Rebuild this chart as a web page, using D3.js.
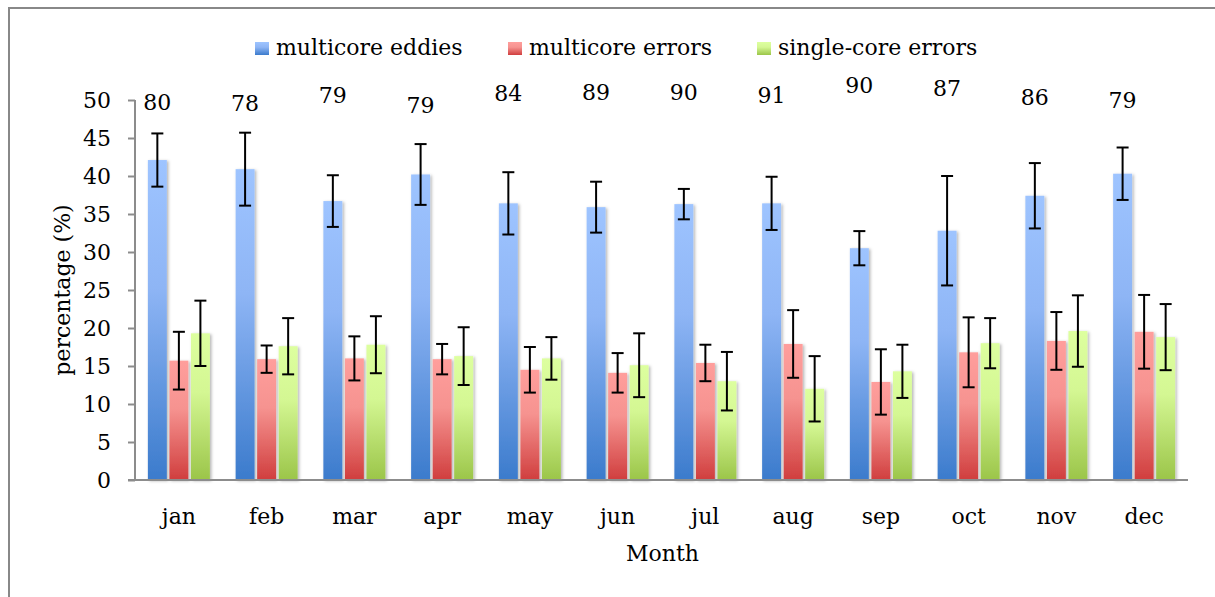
<!DOCTYPE html>
<html>
<head>
<meta charset="utf-8">
<script src="https://cdn.jsdelivr.net/npm/d3@7"></script>
<style>
  html, body { margin: 0; padding: 0; background: #fff; overflow: hidden; }
  svg { display: block; overflow: hidden; }
  text { font-family: "DejaVu Serif", "Liberation Serif", serif; fill: #000; }
</style>
</head>
<body>
<script>
// Monthly share of eddies and tracking errors (percent), with standard deviations
const months = ["jan", "feb", "mar", "apr", "may", "jun", "jul", "aug", "sep", "oct", "nov", "dec"];
const seriesNames = ["multicore eddies", "multicore errors", "single-core errors"];

const multicoreEddies    = [42.1, 40.9, 36.7, 40.2, 36.4, 35.9, 36.3, 36.4, 30.5, 32.8, 37.4, 40.3];
const multicoreEddiesSd  = [3.5, 4.8, 3.4, 4.0, 4.1, 3.35, 2.0, 3.5, 2.25, 7.2, 4.3, 3.45];
const multicoreErrors    = [15.7, 15.9, 16.0, 15.9, 14.5, 14.1, 15.4, 17.9, 12.9, 16.8, 18.3, 19.5];
const multicoreErrorsSd  = [3.8, 1.8, 2.9, 2.0, 3.0, 2.6, 2.4, 4.45, 4.3, 4.6, 3.8, 4.85];
const singleCoreErrors   = [19.3, 17.6, 17.8, 16.3, 16.0, 15.1, 13.0, 12.0, 14.3, 18.0, 19.6, 18.8];
const singleCoreErrorsSd = [4.3, 3.7, 3.75, 3.8, 2.8, 4.2, 3.85, 4.3, 3.5, 3.3, 4.7, 4.35];

// Count shown above each month group
const monthTotals = [80, 78, 79, 79, 84, 89, 90, 91, 90, 87, 86, 79];

const yTicks = [0, 5, 10, 15, 20, 25, 30, 35, 40, 45, 50];

// ---- layout ----
const W = 1215, H = 597;
const plot = { left: 135, right: 1188, top: 100, bottom: 480 };
// vertical placement of the totals (px raised above the default baseline)
const totalsLift = [0, -1, 7, -3, 9, 10, 10, 7, 17, 14, 5, 2];

const svg = d3.select("body").append("svg").attr("width", W).attr("height", H);

const seriesValues = [multicoreEddies, multicoreErrors, singleCoreErrors];
const seriesSd = [multicoreEddiesSd, multicoreErrorsSd, singleCoreErrorsSd];
const gradStops = [
  ["#9ec4ff", "#8eb5f5", "#3b7bcc"],
  ["#ff9e9c", "#f69390", "#d03e3e"],
  ["#ddff9f", "#d4f793", "#9bc549"]
];

const defs = svg.append("defs");
gradStops.forEach((c, i) => {
  const g = defs.append("linearGradient").attr("id", "grad" + i)
    .attr("x1", 0).attr("y1", 0).attr("x2", 0).attr("y2", 1);
  g.append("stop").attr("offset", "0").attr("stop-color", c[0]);
  g.append("stop").attr("offset", "0.4").attr("stop-color", c[1]);
  g.append("stop").attr("offset", "1").attr("stop-color", c[2]);
});
const sh = defs.append("filter").attr("id", "shadow")
  .attr("x", "-30%").attr("y", "-5%").attr("width", "160%").attr("height", "110%");
sh.append("feDropShadow").attr("dx", 1.5).attr("dy", 1).attr("stdDeviation", 1.8)
  .attr("flood-color", "#000").attr("flood-opacity", 0.3);

// outer frame (only its top and left edges fall inside the view)
svg.append("path").attr("d", `M9,${H + 10}V8H${W + 10}`)
  .attr("fill", "none").attr("stroke", "#888").attr("stroke-width", 2);

const x0 = d3.scaleBand().domain(months).range([plot.left, plot.right]);
const groupW = 62;
const x1 = d3.scaleBand().domain(d3.range(3))
  .range([(x0.bandwidth() - groupW) / 2, (x0.bandwidth() + groupW) / 2])
  .paddingInner(0.12);
const y = d3.scaleLinear().domain([0, 50]).range([plot.bottom, plot.top]);

// bars
const groups = svg.append("g").selectAll("g").data(months).join("g")
  .attr("transform", d => `translate(${x0(d)},0)`);

groups.each(function (m, mi) {
  const g = d3.select(this);
  const rows = seriesValues.map((vals, si) => ({ si, v: vals[mi], sd: seriesSd[si][mi] }));
  g.selectAll("rect").data(rows).join("rect")
    .attr("x", d => x1(d.si))
    .attr("y", d => y(d.v))
    .attr("width", x1.bandwidth())
    .attr("height", d => y(0) - y(d.v))
    .attr("fill", d => `url(#grad${d.si})`)
    .attr("filter", "url(#shadow)");

  const cap = 6;
  const cx = d => x1(d.si) + x1.bandwidth() / 2;
  const eb = g.selectAll("g.err").data(rows).join("g").attr("class", "err")
    .attr("stroke", "#000").attr("stroke-width", 2);
  eb.append("line")
    .attr("x1", cx).attr("x2", cx)
    .attr("y1", d => y(d.v + d.sd)).attr("y2", d => y(d.v - d.sd));
  eb.append("line")
    .attr("x1", d => cx(d) - cap).attr("x2", d => cx(d) + cap)
    .attr("y1", d => y(d.v + d.sd)).attr("y2", d => y(d.v + d.sd));
  eb.append("line")
    .attr("x1", d => cx(d) - cap).attr("x2", d => cx(d) + cap)
    .attr("y1", d => y(d.v - d.sd)).attr("y2", d => y(d.v - d.sd));
});

// totals above each group
svg.append("g").selectAll("text").data(months).join("text")
  .attr("x", d => x0(d) + x1(0) + x1.bandwidth() / 2)
  .attr("y", (d, i) => plot.top + 10 - totalsLift[i])
  .attr("text-anchor", "middle")
  .attr("font-size", 22)
  .text((d, i) => monthTotals[i]);

// y axis
const yAxis = d3.axisLeft(y).tickValues(yTicks).tickSize(7).tickPadding(17);
const gy = svg.append("g").attr("transform", `translate(${plot.left},0)`).call(yAxis);
gy.select(".domain").attr("stroke", "#8c8c8c").attr("stroke-width", 2).attr("d", `M0,${plot.top}V${plot.bottom}`);
gy.selectAll(".tick line").attr("stroke", "#8c8c8c").attr("stroke-width", 2);
gy.selectAll(".tick text").attr("font-size", 22).attr("font-family", '"DejaVu Serif", serif').attr("fill", "#000");

// x axis
const xAxis = d3.axisBottom(x0).tickSize(0).tickPadding(28);
const gx = svg.append("g").attr("transform", `translate(0,${plot.bottom})`).call(xAxis);
gx.select(".domain").attr("stroke", "#8c8c8c").attr("stroke-width", 2).attr("d", `M${plot.left - 7},0H${plot.right}`);
gx.selectAll(".tick text").attr("font-size", 22).attr("font-family", '"DejaVu Serif", serif').attr("fill", "#000");

// axis titles
svg.append("text").attr("x", (plot.left + plot.right) / 2 + 1).attr("y", 561)
  .attr("text-anchor", "middle").attr("font-size", 22).text("Month");
svg.append("text").attr("transform", `translate(70,${(plot.top + plot.bottom) / 2}) rotate(-90)`)
  .attr("text-anchor", "middle").attr("font-size", 22).text("percentage (%)");

// legend
const legendX = [255, 508, 757];
const legend = svg.append("g").selectAll("g").data(seriesNames).join("g")
  .attr("transform", (d, i) => `translate(${legendX[i]},42)`);
legend.append("rect").attr("width", 14).attr("height", 13).attr("fill", (d, i) => `url(#grad${i})`);
legend.append("text").attr("x", 21).attr("y", 13).attr("font-size", 22).text(d => d);
</script>
</body>
</html>
